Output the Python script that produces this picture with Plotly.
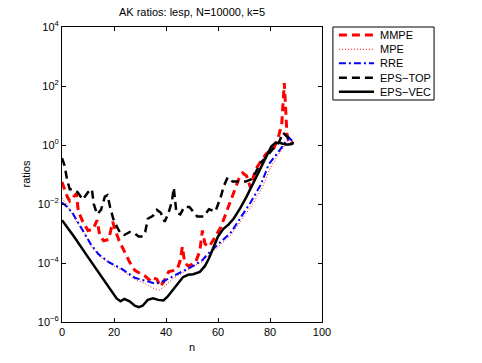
import numpy as np
import plotly.graph_objects as go

# values are read as log10(ratio) off the reference and turned into ratios below
mmpe_n = [0, 1, 2, 3, 4, 5.5, 6.3, 8, 10, 12, 13.5, 14.5, 16, 18, 19.5, 20.5, 22, 24, 26, 28,
          30, 32, 34, 35, 36.5, 37.8, 39, 41, 43, 44.4, 45.5, 46.3, 47.2, 48.6, 50, 51.4, 53,
          54, 55, 56.5, 58, 59.5, 61, 62.5, 64, 66, 68, 69.5, 71, 72.5, 73.5, 75, 77, 78.5,
          80, 81.5, 83, 84.5, 85.5, 86.5, 87.5, 89]
mmpe_log = [-1.25, -1.5, -1.75, -1.9, -1.8, -1.65, -2.25, -2.6, -2.9, -2.85, -2.55, -3.05, -3.25,
            -3.2, -2.6, -2.9, -3.25, -3.6, -3.97, -4.25, -4.35, -4.45, -4.6, -4.5, -4.55, -4.8,
            -4.65, -4.3, -4.25, -4.2, -3.9, -3.45, -4.0, -4.1, -4.05, -3.97, -3.6, -2.9, -3.35,
            -3.45, -3.25, -3.0, -2.8, -2.45, -2.1, -1.6, -1.15, -0.95, -1.05, -1.45, -1.1, -0.75,
            -0.5, -0.3, -0.2, -0.1, 0.2, 0.7, 2.1, 0.4, 0.0, 0.1]

mpe_n = [0, 2, 4, 6, 9, 11, 14, 18, 23, 28, 32, 35, 37.5, 40, 43, 46, 50, 54, 57, 60, 65, 69,
         73, 77, 80, 83, 85.5, 87.5, 89]
mpe_log = [-1.8, -2.05, -2.35, -2.65, -3.05, -3.4, -3.75, -4.0, -4.25, -4.55, -4.7, -4.85, -4.92,
           -4.75, -4.5, -4.35, -4.15, -3.95, -3.7, -3.45, -3.05, -2.55, -2.05, -1.45, -0.8,
           -0.35, -0.05, 0.2, 0.12]

rre_n = [0, 2, 4, 6, 9, 11, 14, 18, 23, 28, 32, 36, 39, 42.5, 46, 50.5, 54, 56, 60, 65, 69,
         72.5, 76.5, 79.5, 83, 85.3, 87.3, 89]
rre_log = [-1.95, -2.1, -2.3, -2.6, -3.0, -3.35, -3.7, -3.97, -4.2, -4.5, -4.6, -4.7, -4.62,
           -4.45, -4.3, -4.1, -3.9, -3.7, -3.36, -2.96, -2.42, -1.95, -1.34, -0.66, -0.26, 0.0,
           0.25, 0.1]

top_n = [0, 1, 2, 3, 4, 6, 8, 10, 11.5, 12.2, 13.5, 15, 16.5, 17.5, 18.5, 19.7, 21, 22.5, 24,
         26, 28, 29.5, 31, 32, 33, 35, 36.5, 38, 39.5, 41, 42.3, 43, 44, 45.5, 47, 49, 52, 54.5,
         56.5, 59, 61, 62.2, 63.7, 65.6, 68, 70.7, 72.6, 74.5, 76.4, 78.4, 81.5, 83.4, 85, 86.9,
         88, 89]
top_log = [-0.45, -0.7, -1.2, -1.5, -1.5, -1.6, -1.85, -1.6, -1.5, -2.0, -2.35, -2.2, -1.75,
           -1.7, -2.1, -2.5, -2.75, -3.0, -3.05, -2.95, -3.0, -3.1, -3.1, -2.95, -2.5, -2.4,
           -2.2, -2.3, -2.6, -2.3, -1.9, -1.45, -2.3, -2.35, -2.1, -2.1, -2.42, -2.42, -2.18,
           -2.25, -1.78, -1.4, -1.1, -1.24, -1.24, -1.24, -1.17, -0.93, -0.6, -0.43, -0.09,
           0.08, 0.42, 0.25, 0.11, 0.05]

vec_n = [0, 5, 10, 15, 19, 21, 22.5, 24, 26, 28, 29.5, 31, 33, 35, 37, 39, 40.5, 42, 44.5,
         46.5, 48.5, 50.5, 53, 55, 56.5, 58, 60, 62, 64, 66, 68.5, 71, 73, 75, 77, 79, 80.5,
         82, 84, 86, 87, 89]
vec_log = [-2.55, -3.15, -3.8, -4.45, -4.95, -5.2, -5.3, -5.22, -5.3, -5.45, -5.5, -5.45, -5.25,
           -5.2, -5.25, -5.27, -5.15, -4.98, -4.72, -4.48, -4.4, -4.38, -4.3, -4.1, -3.85, -3.5,
           -3.1, -2.85, -2.7, -2.5, -2.15, -1.75, -1.4, -1.05, -0.7, -0.35, -0.05, 0.07, 0.07,
           0.02, 0.02, 0.05]

y_tick_exp = [-6, -4, -2, 0, 2, 4]
y_tick_text = ["10<sup>\u22126</sup>", "10<sup>\u22124</sup>", "10<sup>\u22122</sup>",
               "10<sup>0</sup>", "10<sup>2</sup>", "10<sup>4</sup>"]

series = [
    ("MMPE", mmpe_n, mmpe_log, dict(color="#ff0000", width=3, dash="8px,5px")),
    ("MPE", mpe_n, mpe_log, dict(color="#ff0000", width=1, dash="1px,2px")),
    ("RRE", rre_n, rre_log, dict(color="#0000ff", width=2, dash="7px,3px,2px,3px")),
    ("EPS\u2212TOP", top_n, top_log, dict(color="#000000", width=2.5, dash="8px,5px")),
    ("EPS\u2212VEC", vec_n, vec_log, dict(color="#000000", width=2.5)),
]

fig = go.Figure()
for name, xs, logs, line in series:
    fig.add_trace(go.Scatter(x=xs, y=np.power(10.0, logs), mode="lines", name=name, line=line,
                             showlegend=False))

# matlab-like legend box: plotly's own legend rows are too tall for this
shapes = [dict(type="rect", xref="paper", yref="paper", x0=1.042, x1=1.431, y0=0.7525, y1=1.0,
               line=dict(color="black", width=1), fillcolor="white")]
annotations = []
row_y = [0.9729, 0.9244, 0.877, 0.8281, 0.7807]
for (name, xs, logs, line), yy in zip(series, row_y):
    shapes.append(dict(type="line", xref="paper", yref="paper", x0=1.065, x1=1.2, y0=yy, y1=yy,
                       line=line))
    annotations.append(dict(text=name, xref="paper", yref="paper", x=1.215, y=yy,
                            xanchor="left", yanchor="middle", showarrow=False,
                            font=dict(size=11)))

annotations.append(dict(text="ratios", xref="paper", yref="paper", x=-0.1423, y=0.5,
                        textangle=-90, xanchor="center", yanchor="middle", showarrow=False,
                        font=dict(size=11)))
annotations.append(dict(text="n", xref="paper", yref="paper", x=0.5, y=-0.085,
                        xanchor="center", yanchor="middle", showarrow=False, font=dict(size=11)))

font = "Liberation Sans, Arial, sans-serif"
axis = dict(showline=True, linecolor="black", linewidth=1, mirror="ticks", ticks="inside",
            ticklen=4, tickcolor="black", showgrid=False, zeroline=False, automargin=False,
            tickfont=dict(size=11, color="black"))

fig.update_layout(
    width=482, height=363,
    margin=dict(l=62, r=160, t=27, b=41),
    paper_bgcolor="white", plot_bgcolor="white",
    font=dict(family=font, size=11, color="black"),
    title=dict(text="AK ratios: lesp, N=10000, k=5", x=0.5, xref="paper", y=1 - 12.5 / 363,
               yanchor="middle", font=dict(size=11)),
    showlegend=False,
    shapes=shapes,
    annotations=annotations,
)
fig.update_xaxes(range=[0, 100], dtick=20, **axis)
fig.update_yaxes(type="log", range=[-6, 4], tickvals=[10.0 ** e for e in y_tick_exp],
                 ticktext=y_tick_text, **axis)

fig.write_html("out.html", config={"displayModeBar": False},
               post_script="document.body.style.margin='0';")
